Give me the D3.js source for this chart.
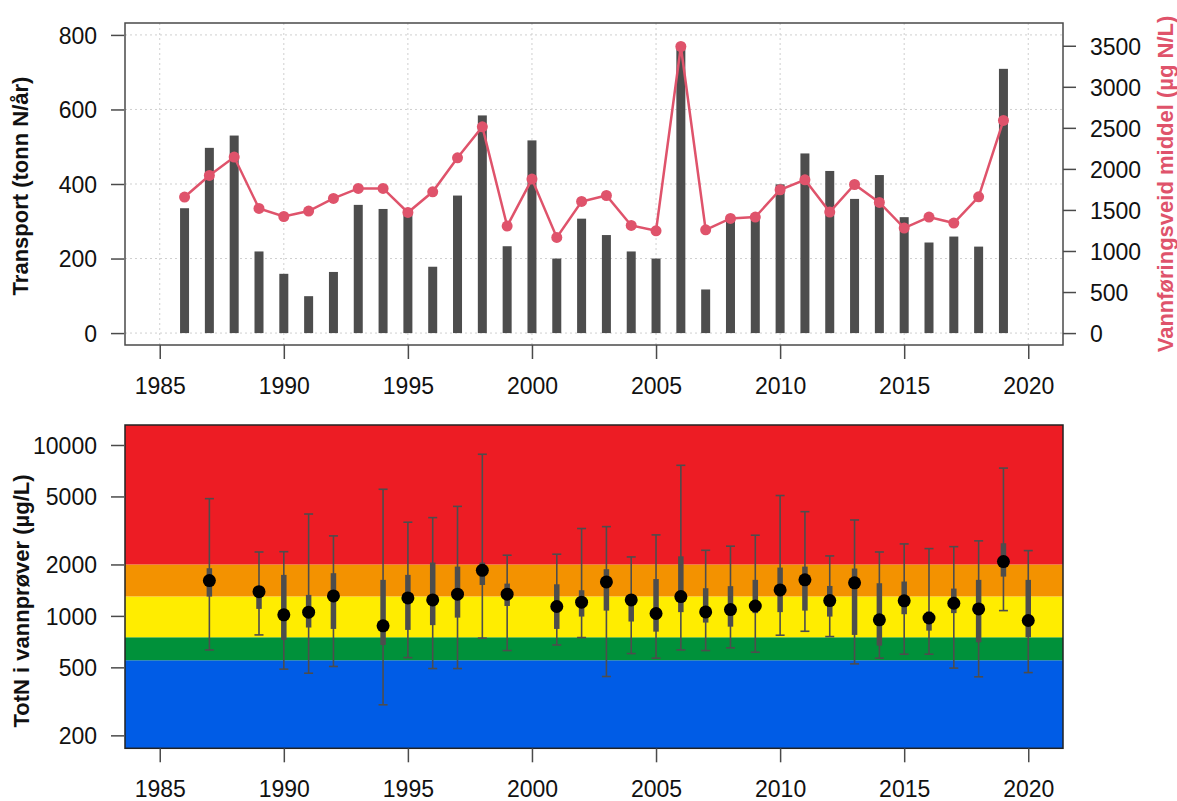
<!DOCTYPE html>
<html>
<head>
<meta charset="utf-8">
<script src="https://cdn.jsdelivr.net/npm/d3@7"></script>
<style>
  html, body { margin: 0; padding: 0; background: #fff; }
  svg { display: block; font-family: "Liberation Sans", Arial, Helvetica, sans-serif; }
</style>
</head>
<body>
<svg id="chart" width="1177" height="801"></svg>
<script>
// ---------- data (top panel) ----------
const years = [1986,1987,1988,1989,1990,1991,1992,1993,1994,1995,1996,1997,1998,1999,2000,2001,2002,2003,2004,2005,2006,2007,2008,2009,2010,2011,2012,2013,2014,2015,2016,2017,2018,2019];
const transport = [335,497,530,219,159,99,164,344,333,332,178,369,584,233,517,200,307,263,219,200,768,117,303,317,399,482,435,360,424,311,243,259,232,709];
const flowWeightedMean = [1657,1920,2144,1518,1420,1486,1640,1762,1762,1469,1721,2135,2513,1303,1876,1165,1603,1676,1311,1246,3491,1258,1396,1413,1746,1867,1474,1810,1591,1279,1413,1340,1660,2590];

// ---------- data (bottom panel) ----------
const sampleYears = [1987,1989,1990,1991,1992,1994,1995,1996,1997,1998,1999,2001,2002,2003,2004,2005,2006,2007,2008,2009,2010,2011,2012,2013,2014,2015,2016,2017,2018,2019,2020];
const sampleMin = [632,774,488,462,506,302,570,492,492,741,627,676,747,442,602,566,632,627,650,613,771,813,757,524,566,597,597,495,440,1074,466];
const sampleMax = [4853,2366,2375,3945,2939,5508,3533,3759,4374,8827,2265,2296,3245,3329,2213,2978,7605,2420,2558,2965,5061,4073,2243,3642,2366,2637,2476,2542,2749,7326,2410];
const sampleQ1 = [1297,1099,724,855,839,676,828,883,977,1517,1143,839,991,1074,927,809,1052,914,865,1038,1052,1074,991,774,670,1023,820,1038,701,1698,750];
const sampleQ3 = [1901,1450,1738,1327,1778,1625,1738,2052,1943,2051,1545,1531,1413,1876,1297,1643,2232,1452,1493,1625,1918,1943,1497,1893,1553,1589,1060,1445,1625,2661,1625];
const sampleMedian = [1609,1386,1014,1052,1309,875,1274,1241,1340,1849,1340,1135,1203,1581,1241,1033,1297,1055,1089,1143,1419,1625,1229,1561,949,1225,972,1186,1099,2080,940];

// class limits and colours
const classBreaks = [550, 750, 1300, 2000];
const classColors = ["#005CE6", "#00913A", "#FFED00", "#F39200", "#ED1C24"];

// tick values
const xTicks = [1985,1990,1995,2000,2005,2010,2015,2020];
const leftTicks = [0,200,400,600,800];
const rightTicks = [0,500,1000,1500,2000,2500,3000,3500];
const logTicks = [200,500,1000,2000,5000,10000];

// ---------- layout ----------
const svg = d3.select("#chart");
const L = 125, R = 1063;
const top1 = 23, bot1 = 345;
const top2 = 425, bot2 = 748.3;
const tickFont = 23, labFont = 22;
const lineCol = "#DF536B";
const darkGrey = "#4D4D4D";
const fmt = d3.format("d");

const x = d3.scaleLinear().domain([1983.6, 2021.4]).range([L, R]);
const yL = d3.scaleLinear().domain([-32, 832]).range([bot1, top1]);
const yR = d3.scaleLinear().domain([-145.3, 3777.3]).range([bot1, top1]);
const yB = d3.scaleLog().domain([168, 13092]).range([bot2, top2]);

// ---------- top panel ----------
const g1 = svg.append("g");
// grid
g1.selectAll("line.vg").data(xTicks).join("line")
  .attr("x1", d => x(d)).attr("x2", d => x(d)).attr("y1", top1).attr("y2", bot1)
  .attr("stroke", "#cfcfcf").attr("stroke-width", 1).attr("stroke-dasharray", "2,3");
g1.selectAll("line.hg").data(leftTicks).join("line")
  .attr("x1", L).attr("x2", R).attr("y1", d => yL(d)).attr("y2", d => yL(d))
  .attr("stroke", "#cfcfcf").attr("stroke-width", 1).attr("stroke-dasharray", "2,3");

// bars
g1.selectAll("rect.bar").data(years).join("rect")
  .attr("x", d => x(d) - 4.5).attr("width", 9)
  .attr("y", (d, i) => yL(transport[i]))
  .attr("height", (d, i) => yL(0) - yL(transport[i]))
  .attr("fill", darkGrey);

// line + points
const line = d3.line().x((d, i) => x(years[i])).y(d => yR(d));
g1.append("path").datum(flowWeightedMean).attr("d", line)
  .attr("fill", "none").attr("stroke", lineCol).attr("stroke-width", 2.5);
g1.selectAll("circle.pt").data(flowWeightedMean).join("circle")
  .attr("cx", (d, i) => x(years[i])).attr("cy", d => yR(d)).attr("r", 5.5)
  .attr("fill", lineCol);

// box
g1.append("rect").attr("x", L).attr("y", top1).attr("width", R - L).attr("height", bot1 - top1)
  .attr("fill", "none").attr("stroke", "#4a4a4a").attr("stroke-width", 1.5);

function styleAxis(g) {
  g.select(".domain").remove();
  g.selectAll(".tick line").attr("stroke", "#4a4a4a").attr("stroke-width", 1.5);
  g.selectAll(".tick text").attr("fill", "#111").style("font-size", tickFont + "px");
}

// x axis top
const ax1 = svg.append("g").attr("transform", `translate(0,${bot1})`)
  .call(d3.axisBottom(x).tickValues(xTicks).tickFormat(fmt).tickSize(14));
styleAxis(ax1);
ax1.selectAll(".tick text").attr("dy", 0).attr("y", 49);

// left axis
const ayL = svg.append("g").attr("transform", `translate(${L - 1},0)`)
  .call(d3.axisLeft(yL).tickValues(leftTicks).tickFormat(fmt).tickSize(13).tickPadding(14));
styleAxis(ayL);
ayL.selectAll(".tick text").attr("dy", "0.36em");

// right axis
const ayR = svg.append("g").attr("transform", `translate(${R},0)`)
  .call(d3.axisRight(yR).tickValues(rightTicks).tickFormat(fmt).tickSize(13).tickPadding(14));
styleAxis(ayR);
ayR.selectAll(".tick text").attr("dy", "0.36em");

// axis titles
svg.append("text").attr("transform", "translate(28,186) rotate(-90)")
  .attr("text-anchor", "middle").attr("font-weight", "bold").style("font-size", labFont + "px")
  .attr("fill", "#111").text("Transport (tonn N/år)");
svg.append("text").attr("transform", "translate(1173,184) rotate(-90)")
  .attr("text-anchor", "middle").attr("font-weight", "bold").style("font-size", labFont + "px")
  .attr("fill", lineCol).text("Vannføringsveid middel (µg N/L)");

// ---------- bottom panel ----------
const g2 = svg.append("g");
const [dLo, dHi] = yB.domain();
const bandEdges = [dLo, ...classBreaks, dHi];
g2.selectAll("rect.band").data(classColors).join("rect")
  .attr("x", L).attr("width", R - L)
  .attr("y", (d, i) => yB(bandEdges[i + 1]))
  .attr("height", (d, i) => yB(bandEdges[i]) - yB(bandEdges[i + 1]))
  .attr("fill", d => d);

// whiskers
g2.selectAll("line.wh").data(sampleYears).join("line")
  .attr("x1", d => x(d)).attr("x2", d => x(d))
  .attr("y1", (d, i) => yB(sampleMin[i])).attr("y2", (d, i) => yB(sampleMax[i]))
  .attr("stroke", darkGrey).attr("stroke-width", 1.6);
g2.selectAll("line.capHi").data(sampleYears).join("line")
  .attr("x1", d => x(d) - 4.5).attr("x2", d => x(d) + 4.5)
  .attr("y1", (d, i) => yB(sampleMax[i])).attr("y2", (d, i) => yB(sampleMax[i]))
  .attr("stroke", darkGrey).attr("stroke-width", 1.6);
g2.selectAll("line.capLo").data(sampleYears).join("line")
  .attr("x1", d => x(d) - 4.5).attr("x2", d => x(d) + 4.5)
  .attr("y1", (d, i) => yB(sampleMin[i])).attr("y2", (d, i) => yB(sampleMin[i]))
  .attr("stroke", darkGrey).attr("stroke-width", 1.6);
// thick quartile bars
g2.selectAll("line.q").data(sampleYears).join("line")
  .attr("x1", d => x(d)).attr("x2", d => x(d))
  .attr("y1", (d, i) => yB(sampleQ1[i])).attr("y2", (d, i) => yB(sampleQ3[i]))
  .attr("stroke", darkGrey).attr("stroke-width", 5.5);
// medians
g2.selectAll("circle.md").data(sampleYears).join("circle")
  .attr("cx", d => x(d)).attr("cy", (d, i) => yB(sampleMedian[i])).attr("r", 6.5)
  .attr("fill", "#000");

g2.append("rect").attr("x", L).attr("y", top2).attr("width", R - L).attr("height", bot2 - top2)
  .attr("fill", "none").attr("stroke", "#222").attr("stroke-width", 1.5);

const ax2 = svg.append("g").attr("transform", `translate(0,${bot2})`)
  .call(d3.axisBottom(x).tickValues(xTicks).tickFormat(fmt).tickSize(14));
styleAxis(ax2);
ax2.selectAll(".tick text").attr("dy", 0).attr("y", 49);

const ayB = svg.append("g").attr("transform", `translate(${L - 1},0)`)
  .call(d3.axisLeft(yB).tickValues(logTicks).tickFormat(fmt).tickSize(13).tickPadding(14));
styleAxis(ayB);
ayB.selectAll(".tick text").attr("dy", "0.36em");

svg.append("text").attr("transform", "translate(29,601) rotate(-90)")
  .attr("text-anchor", "middle").attr("font-weight", "bold").style("font-size", labFont + "px")
  .attr("fill", "#111").text("TotN i vannprøver (µg/L)");
</script>
</body>
</html>
